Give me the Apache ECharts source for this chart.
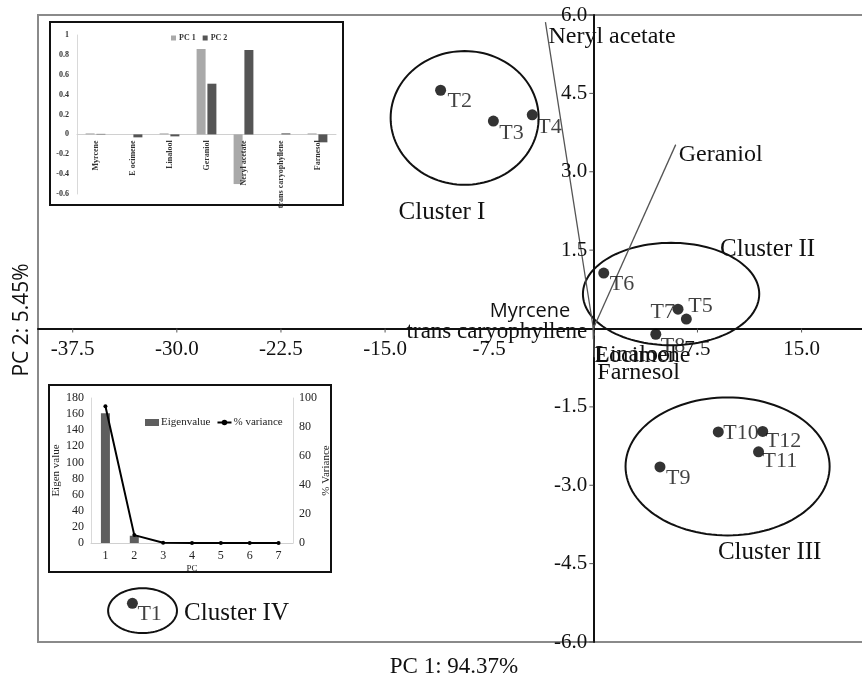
<!DOCTYPE html>
<html><head><meta charset="utf-8">
<script src="https://cdn.jsdelivr.net/npm/echarts@6/dist/echarts.min.js"></script>
<style>html,body{margin:0;padding:0;background:#fff}#c{width:862px;height:684px}</style>
</head><body><div id="c"></div>
<script>
// ---- PCA scores ----
const sampleNames = ['T1','T2','T3','T4','T5','T6','T7','T8','T9','T10','T11','T12'];
const pc1Scores = [-33.2, -11.0, -7.2, -4.4, 6.7, 0.75, 6.1, 4.5, 4.8, 9.0, 11.9, 12.2];
const pc2Scores = [-5.26, 4.56, 3.97, 4.09, 0.18, 1.06, 0.37, -0.11, -2.65, -1.98, -2.36, -1.97];

// ---- loadings ----
const variables = ['Myrcene','E ocimene','Linalool','Geraniol','Neryl acetate','trans caryophyllene','Farnesol'];
const pc1Loadings = [0.01, 0.0, 0.01, 0.86, -0.5, 0.0, 0.01];
const pc2Loadings = [0.005, -0.03, -0.02, 0.51, 0.85, 0.01, -0.08];
const biplotScale = 6.9;
const vectorLabels = ['Myrcene','Eocimene','Linalool','Geraniol','Neryl acetate','trans caryophyllene','Farnesol'];

// ---- eigen analysis ----
const pcNumbers = ['1','2','3','4','5','6','7'];
const eigenvalues = [161, 9, 0.3, 0.1, 0.05, 0.02, 0.01];
const pctVariance = [94.37, 5.45, 0.15, 0.03, 0.0, 0.0, 0.0];

// ---- clusters (ellipses in data units) ----
const clusterNames = ['Cluster I','Cluster II','Cluster III','Cluster IV'];
const clusterCX = [-9.27, 5.6, 9.67, -32.47];
const clusterCY = [4.03, 0.66, -2.64, -5.40];
const clusterRX = [5.33, 6.35, 7.35, 2.48];
const clusterRY = [1.28, 0.98, 1.32, 0.43];
const clusterLabelX = [-10.9, 12.55, 12.7, -25.7];
const clusterLabelY = [2.23, 1.52, -4.28, -5.45];

// ---- tick labels ----
const xTicks = [-37.5, -30, -22.5, -15, -7.5, 7.5, 15];
const yTicks = [6, 4.5, 3, 1.5, -1.5, -3, -4.5, -6];

const serif = '"Liberation Serif", "Times New Roman", serif';
const sans = '"Open Sans", "Noto Sans", sans-serif';
const ink = '#111';

// label placement (pixel offsets, style only)
const sampleLabelPlace = {
  T1:[5,11,'left'], T2:[7,11,'left'], T3:[6,12,'left'], T4:[5,12,'left'],
  T5:[2,-13,'left'], T6:[6,11,'left'], T7:[-3,3,'right'], T8:[5,12,'left'],
  T9:[6,11,'left'], T10:[5,1,'left'], T11:[4,9,'left'], T12:[3,10,'left']
};
const vectorLabelPlace = [
  {dx:-24, dy:-15, align:'right', font:sans, size:20},
  {dx:1, dy:16, align:'left', font:serif, size:24},
  {dx:1, dy:19, align:'left', font:serif, size:24},
  {dx:3, dy:10, align:'left', font:serif, size:24},
  {dx:3, dy:15, align:'left', font:serif, size:24},
  {dx:-6, dy:7, align:'right', font:serif, size:23},
  {dx:3, dy:15, align:'left', font:serif, size:24}
];

const chart = echarts.init(document.getElementById('c'));

const ellipseData = clusterCX.map((cx, i) => [cx, clusterCY[i], clusterRX[i], clusterRY[i]]);
const vectorData = variables.map((v, i) => [pc1Loadings[i] * biplotScale, pc2Loadings[i] * biplotScale, i]);
const clusterLabelData = clusterNames.map((n, i) => [clusterLabelX[i], clusterLabelY[i], i]);
const xTickData = xTicks.map(v => [v, 0]);
const yTickData = yTicks.map(v => [0, v]);
const catLabelData = variables.map((v, i) => [i, 0]);
const scoreData = sampleNames.map((n, i) => {
  const p = sampleLabelPlace[n];
  return { name: n, value: [pc1Scores[i], pc2Scores[i]],
    label: { position: [5.5 + p[0], 5.5 + p[1]], align: p[2], verticalAlign: 'middle' } };
});

const option = {
  animation: false,
  backgroundColor: '#fff',
  grid: [
    { left: 38, top: 15, width: 833, height: 627, show: true, borderColor: '#8a8a8a', borderWidth: 2,
      backgroundColor: 'transparent', outerBoundsMode: 'none', containLabel: false },
    { left: 77, top: 35, width: 259, height: 159, outerBoundsMode: 'none' },
    { left: 91, top: 398, width: 202, height: 145, outerBoundsMode: 'none' }
  ],
  legend: [
    { data: ['PC 1', 'PC 2'], left: 166, top: 29, itemWidth: 5, itemHeight: 5, itemGap: 7, icon: 'rect',
      textStyle: { fontSize: 8, fontWeight: 'bold', fontFamily: serif, color: '#333', padding: [0,0,0,-2] } },
    { data: [{name:'Eigenvalue', icon:'rect'}, {name:'% variance'}], left: 140, top: 412, itemWidth: 14, itemHeight: 7, itemGap: 6,
      textStyle: { fontSize: 11, fontFamily: serif, color: '#222', padding: [0,0,0,-3] } }
  ],
  xAxis: [
    { type: 'value', gridIndex: 0, min: -40, max: 20,
      axisLine: { onZero: true, lineStyle: { color: ink, width: 2 } },
      axisTick: { show: false }, axisLabel: { show: false }, splitLine: { show: false } },
    { type: 'category', gridIndex: 1, data: variables,
      axisLine: { onZero: true, lineStyle: { color: '#d0d0d0', width: 1 } },
      axisTick: { show: false }, axisLabel: { show: false } },
    { type: 'category', gridIndex: 2, data: pcNumbers,
      axisLine: { lineStyle: { color: '#d0d0d0' } }, axisTick: { show: false },
      axisLabel: { fontSize: 12, fontFamily: serif, color: '#222', margin: 7 },
      name: 'PC', nameLocation: 'middle', nameGap: 21, nameTextStyle: { fontSize: 9, fontFamily: serif, color: '#222' } }
  ],
  yAxis: [
    { type: 'value', gridIndex: 0, min: -6, max: 6,
      axisLine: { onZero: true, lineStyle: { color: ink, width: 2 } },
      axisTick: { show: false }, axisLabel: { show: false }, splitLine: { show: false } },
    { type: 'value', gridIndex: 1, min: -0.6, max: 1, interval: 0.2,
      axisLine: { show: true, lineStyle: { color: '#d9d9d9' } }, axisTick: { show: false },
      axisLabel: { fontSize: 8, fontWeight: 'bold', fontFamily: serif, color: '#333', margin: 8,
        formatter: v => String(Math.round(v * 10) / 10) },
      splitLine: { show: false } },
    { type: 'value', gridIndex: 2, min: 0, max: 180, interval: 20,
      axisLine: { show: true, lineStyle: { color: '#d9d9d9' } }, axisTick: { show: false },
      axisLabel: { fontSize: 12, fontFamily: serif, color: '#222', margin: 7 },
      splitLine: { show: false },
      name: 'Eigen value', nameLocation: 'middle', nameGap: 26, nameRotate: 90,
      nameTextStyle: { fontSize: 11, fontFamily: serif, color: '#222' } },
    { type: 'value', gridIndex: 2, min: 0, max: 100, interval: 20, position: 'right',
      axisLine: { show: true, lineStyle: { color: '#d9d9d9' } }, axisTick: { show: false },
      axisLabel: { fontSize: 12, fontFamily: serif, color: '#222', margin: 6 },
      splitLine: { show: false },
      name: '% Variance', nameLocation: 'middle', nameGap: 28, nameRotate: 90,
      nameTextStyle: { fontSize: 11, fontFamily: serif, color: '#222' } }
  ],
  graphic: [
    { type: 'rect', shape: { x: 50, y: 22, width: 293, height: 183 }, style: { fill: 'transparent', stroke: '#111', lineWidth: 2 }, z: 1 },
    { type: 'rect', shape: { x: 49, y: 385, width: 282, height: 187 }, style: { fill: 'transparent', stroke: '#111', lineWidth: 2 }, z: 1 },
    { type: 'text', x: 454, y: 667, style: { text: 'PC 1: 94.37%', font: '23px ' + serif, fill: ink, align: 'center', verticalAlign: 'middle' }, z: 5 },
    { type: 'text', x: 22, y: 320, rotation: Math.PI / 2, style: { text: 'PC 2: 5.45%', font: '21px ' + sans, fill: ink, align: 'center', verticalAlign: 'middle' }, z: 5 }
  ],
  series: [
    { type: 'custom', xAxisIndex: 0, yAxisIndex: 0, data: xTickData, z: 4, silent: true, clip: false,
      renderItem: (params, api) => {
        const p = api.coord([api.value(0), api.value(1)]);
        return { type: 'group', children: [
          { type: 'line', shape: { x1: p[0], y1: p[1], x2: p[0], y2: p[1] + 4 }, style: { stroke: '#555', lineWidth: 1 } },
          { type: 'text', x: p[0], y: p[1] + 10,
            style: { text: api.value(0).toFixed(1), font: '21px ' + serif, fill: ink, align: 'center', verticalAlign: 'top' } }
        ] };
      } },
    { type: 'custom', xAxisIndex: 0, yAxisIndex: 0, data: yTickData, z: 4, silent: true, clip: false,
      renderItem: (params, api) => {
        const p = api.coord([api.value(0), api.value(1)]);
        return { type: 'group', children: [
          { type: 'line', shape: { x1: p[0] - 4, y1: p[1], x2: p[0], y2: p[1] }, style: { stroke: '#555', lineWidth: 1 } },
          { type: 'text', x: p[0] - 6, y: p[1],
            style: { text: api.value(1).toFixed(1), font: '21px ' + serif, fill: ink, align: 'right', verticalAlign: 'middle' } }
        ] };
      } },
    { type: 'custom', xAxisIndex: 0, yAxisIndex: 0, data: ellipseData, z: 3, silent: true,
      renderItem: (params, api) => {
        const c = api.coord([api.value(0), api.value(1)]);
        const s = api.size([api.value(2), api.value(3)]);
        const pts = [];
        for (let k = 0; k <= 120; k++) {
          const t = k / 120 * Math.PI * 2;
          pts.push([c[0] + s[0] * Math.cos(t), c[1] + s[1] * Math.sin(t)]);
        }
        return { type: 'polygon', shape: { points: pts }, style: { fill: 'none', stroke: '#111', lineWidth: 2 } };
      } },
    { type: 'custom', xAxisIndex: 0, yAxisIndex: 0, data: vectorData, z: 3, silent: true,
      renderItem: (params, api) => {
        const i = api.value(2);
        const o = api.coord([0, 0]);
        const e = api.coord([api.value(0), api.value(1)]);
        const p = vectorLabelPlace[i];
        return { type: 'group', children: [
          { type: 'line', shape: { x1: o[0], y1: o[1], x2: e[0], y2: e[1] }, style: { stroke: '#555', lineWidth: 1.3 } },
          { type: 'text', x: e[0] + p.dx, y: e[1] + p.dy,
            style: { text: vectorLabels[i], font: p.size + 'px ' + p.font, fill: ink, align: p.align, verticalAlign: 'middle' } }
        ] };
      } },
    { type: 'custom', xAxisIndex: 0, yAxisIndex: 0, data: clusterLabelData, z: 4, silent: true,
      renderItem: (params, api) => {
        const c = api.coord([api.value(0), api.value(1)]);
        return { type: 'text', x: c[0], y: c[1],
          style: { text: clusterNames[api.value(2)], font: '25px ' + serif, fill: ink, align: 'center', verticalAlign: 'middle' } };
      } },
    { type: 'scatter', xAxisIndex: 0, yAxisIndex: 0, data: scoreData, symbol: 'circle', symbolSize: 11, z: 5,
      itemStyle: { color: '#000' },
      label: { show: true, formatter: '{b}', fontFamily: serif, fontSize: 22, color: ink } },
    { type: 'custom', xAxisIndex: 1, yAxisIndex: 1, data: catLabelData, z: 4, silent: true, clip: false,
      renderItem: (params, api) => {
        const p = api.coord([api.value(0), api.value(1)]);
        return { type: 'text', x: p[0], y: p[1] + 6, rotation: Math.PI / 2,
          style: { text: variables[api.value(0)], font: 'bold 8px ' + serif, fill: '#333', align: 'right', verticalAlign: 'middle' } };
      } },
    { name: 'PC 1', type: 'bar', xAxisIndex: 1, yAxisIndex: 1, data: pc1Loadings, barWidth: 9, barGap: '20%',
      itemStyle: { color: '#a9a9a9' } },
    { name: 'PC 2', type: 'bar', xAxisIndex: 1, yAxisIndex: 1, data: pc2Loadings, barWidth: 9,
      itemStyle: { color: '#555555' } },
    { name: 'Eigenvalue', type: 'bar', xAxisIndex: 2, yAxisIndex: 2, data: eigenvalues, barWidth: 9,
      itemStyle: { color: '#5e5e5e' } },
    { name: '% variance', type: 'line', xAxisIndex: 2, yAxisIndex: 3, data: pctVariance,
      symbol: 'circle', symbolSize: 4, lineStyle: { color: '#000', width: 2 }, itemStyle: { color: '#000' } }
  ]
};
chart.setOption(option);
</script></body></html>
